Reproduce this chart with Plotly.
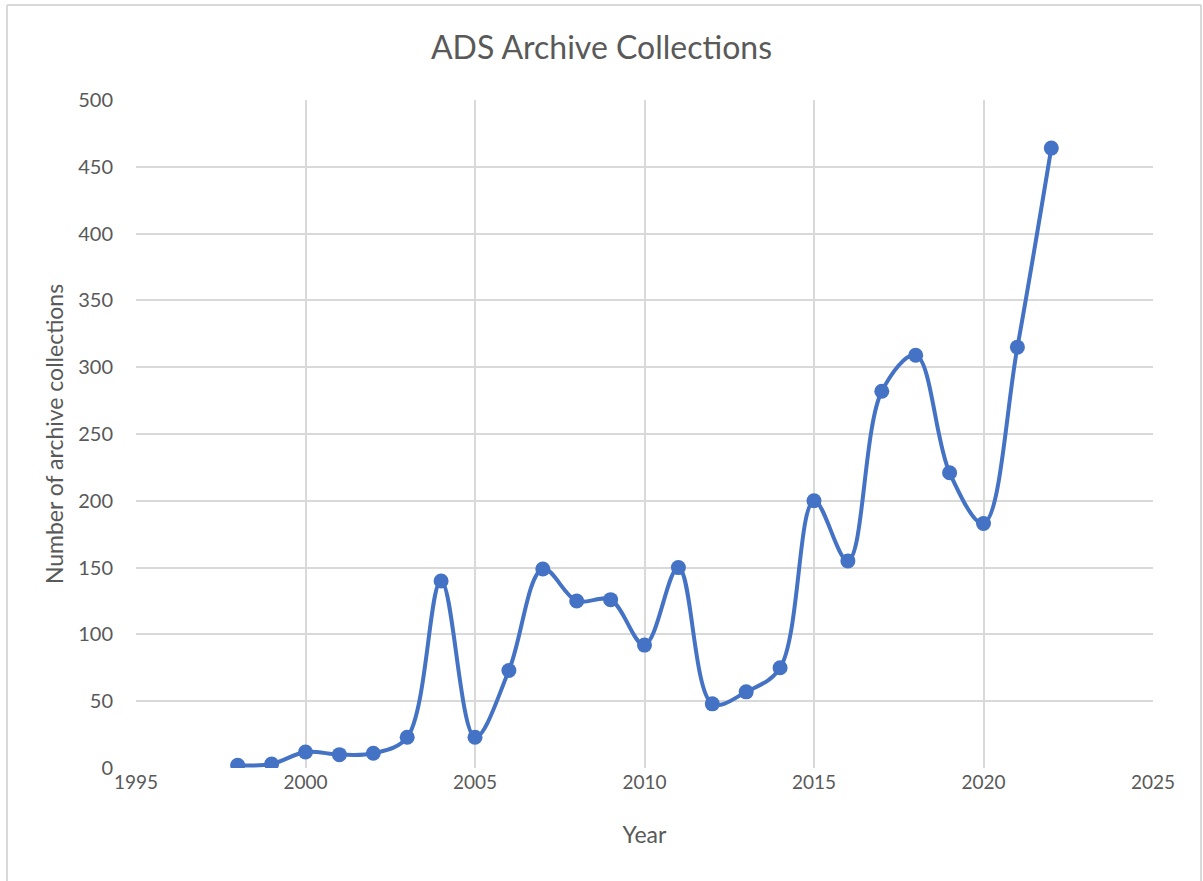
import plotly.graph_objects as go

years = [1998, 1999, 2000, 2001, 2002, 2003, 2004, 2005, 2006, 2007, 2008, 2009,
         2010, 2011, 2012, 2013, 2014, 2015, 2016, 2017, 2018, 2019, 2020, 2021, 2022]
collections = [2, 3, 12, 10, 11, 23, 140, 23, 73, 149, 125, 126,
               92, 150, 48, 57, 75, 200, 155, 282, 309, 221, 183, 315, 464]

x_ticks = [1995, 2000, 2005, 2010, 2015, 2020, 2025]
y_ticks = [0, 50, 100, 150, 200, 250, 300, 350, 400, 450, 500]

BLUE = "#4472C4"
GRID = "#d9d9d9"
TXT = "#595959"
FONT = "Lato, Open Sans, sans-serif"

W, H = 1203, 881
L, R, T, B = 136, 50, 100, 113
pw, ph = W - L - R, H - T - B

fig = go.Figure()
fig.add_trace(go.Scatter(
    x=years, y=collections, mode="lines+markers",
    line=dict(color=BLUE, width=4, shape="spline", smoothing=1.0),
    marker=dict(color=BLUE, size=15),
    showlegend=False,
))

def px_x(p):
    return (p - L) / pw

def px_y(p):
    return (H - B - p) / ph

border = dict(color="#d9d9d9", width=2)
shapes = [
    dict(type="line", xref="paper", yref="paper", x0=px_x(7), x1=px_x(1201), y0=px_y(5), y1=px_y(5), line=border),
    dict(type="line", xref="paper", yref="paper", x0=px_x(7), x1=px_x(7), y0=px_y(5), y1=px_y(881), line=border),
    dict(type="line", xref="paper", yref="paper", x0=px_x(1201), x1=px_x(1201), y0=px_y(5), y1=px_y(881), line=border),
]

fig.update_layout(
    width=W, height=H,
    margin=dict(l=L, r=R, t=T, b=B, autoexpand=False),
    paper_bgcolor="white", plot_bgcolor="white",
    font=dict(family=FONT, color=TXT, size=18),
    title=dict(text="ADS Archive Collections", x=0.5, xanchor="center",
               y=1 - 48 / H, yanchor="middle",
               font=dict(family=FONT, size=32, color=TXT)),
    shapes=shapes,
    xaxis=dict(range=[1995, 2025], tickvals=x_ticks, ticktext=[str(v) for v in x_ticks],
               showgrid=True, gridcolor=GRID, gridwidth=1.5, zeroline=False,
               showline=False, ticks="", ticklabelstandoff=1,
               title=dict(text="Year", font=dict(size=23, color=TXT), standoff=34),
               tickfont=dict(size=19, color=TXT)),
    yaxis=dict(range=[0, 500], tickvals=y_ticks, ticktext=[str(v) for v in y_ticks],
               showgrid=True, gridcolor=GRID, gridwidth=1.5, zeroline=False,
               showline=False, ticks="", ticklabelstandoff=22,
               title=dict(text="Number of archive collections", font=dict(size=23, color=TXT), standoff=8),
               tickfont=dict(size=20, color=TXT)),
)

fig.write_html("out.html")
